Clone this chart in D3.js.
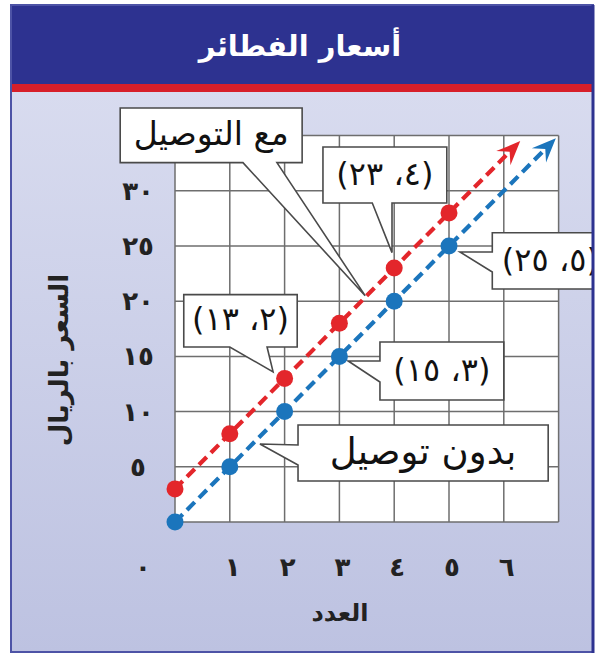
<!DOCTYPE html>
<html><head><meta charset="utf-8">
<script src="https://cdn.jsdelivr.net/npm/d3@7"></script>
<style>body{margin:0;background:#fff} svg{display:block}</style>
</head><body>
<script>
// ---- data ----
const chartTitle = "أسعار الفطائر";
const xTitle = "العدد";
const yTitle = "السعر بالريال";
const counts = [0, 1, 2, 3, 4, 5];
const withDelivery = [3, 8, 13, 18, 23, 28];
const withoutDelivery = [0, 5, 10, 15, 20, 25];
const arrowEndX = [6.3, 6.95];          // red, blue line extents
const seriesNames = ["مع التوصيل", "بدون توصيل"];
const xTickValues = [0, 1, 2, 3, 4, 5, 6];
const xTickLabels = ["٠", "١", "٢", "٣", "٤", "٥", "٦"];
const yTickValues = [5, 10, 15, 20, 25, 30];
const yTickLabels = ["٥", "١٠", "١٥", "٢٠", "٢٥", "٣٠"];
const pointLabelText = ["(٢، ١٣)", "(٤، ٢٣)", "(٣، ١٥)", "(٥، ٢٥)"];

// ---- layout ----
const W = 600, H = 657;
const frame = {x0: 10, y0: 5, x1: 594, y1: 653};
const x = d3.scaleLinear().domain([0, 7]).range([175, 558.6]);
const y = d3.scaleLinear().domain([0, 35]).range([522, 135.6]);
const RED = "#e3262b", BLUE = "#1b75bc";
const AR = "'DejaVu Sans', sans-serif";

// callouts in data units: box [xmin,xmax,ytop,ybottom]
const callouts = [
  {text: seriesNames[0], size: 33, box: [-1.0, 2.32, 37.5, 32.55], side: "bottom", base: [1.24, 1.86], tip: [3.47, 20.5]},
  {text: pointLabelText[1], size: 32, box: [2.70, 4.96, 33.97, 28.89], side: "bottom", base: [3.60, 3.96], tip: [3.96, 24.4]},
  {text: pointLabelText[0], size: 32, box: [0.16, 2.23, 20.6, 15.85], side: "bottom", base: [1.00, 1.68], tip: [1.79, 13.6]},
  {text: pointLabelText[3], size: 32, box: [5.79, 8.3, 26.2, 21.1], side: "left", base: [24.46, 22.64], tip: [5.20, 24.46], tx: 6.85},
  {text: pointLabelText[2], size: 32, box: [3.74, 6.0, 16.3, 11.05], side: "left", base: [14.58, 12.68], tip: [3.16, 14.58]},
  {text: seriesNames[1], size: 37, box: [2.245, 6.81, 8.79, 3.71], side: "left", base: [6.98, 5.16], tip: [1.55, 7.07]}
];

const svg = d3.select("body").append("svg").attr("width", W).attr("height", H);
const defs = svg.append("defs");
const grad = defs.append("linearGradient").attr("id", "bg").attr("x1", 0).attr("y1", 0).attr("x2", 0).attr("y2", 1);
grad.append("stop").attr("offset", "0%").attr("stop-color", "#dcdff1");
grad.append("stop").attr("offset", "100%").attr("stop-color", "#bdc2e1");
defs.append("clipPath").attr("id", "fc").append("rect")
  .attr("x", frame.x0).attr("y", frame.y0).attr("width", frame.x1 - frame.x0).attr("height", frame.y1 - frame.y0);

const g = svg.append("g").attr("clip-path", "url(#fc)");

// background
g.append("rect").attr("x", frame.x0).attr("y", frame.y0).attr("width", frame.x1 - frame.x0).attr("height", frame.y1 - frame.y0).attr("fill", "url(#bg)");
// title band
g.append("rect").attr("x", frame.x0).attr("y", frame.y0).attr("width", frame.x1 - frame.x0).attr("height", 79).attr("fill", "#2d3290");
g.append("rect").attr("x", frame.x0).attr("y", 84).attr("width", frame.x1 - frame.x0).attr("height", 8).attr("fill", "#d71f2a");
g.append("text").attr("x", 300).attr("y", 56).attr("text-anchor", "middle").attr("direction", "rtl")
  .attr("font-family", AR).attr("font-weight", "bold").attr("font-size", 29).attr("fill", "#fff").text(chartTitle);

// grid
g.append("rect").attr("x", x(0)).attr("y", y(35)).attr("width", x(7) - x(0)).attr("height", y(0) - y(35)).attr("fill", "#fff");
const grid = g.append("g").attr("stroke", "#6e6e6e").attr("stroke-width", 1.5);
grid.selectAll("line.v").data(d3.range(0, 8)).join("line")
  .attr("x1", d => x(d)).attr("x2", d => x(d)).attr("y1", y(0)).attr("y2", y(35));
grid.selectAll("line.h").data(d3.range(0, 36, 5)).join("line").attr("class", "h")
  .attr("y1", d => y(d)).attr("y2", d => y(d)).attr("x1", x(0)).attr("x2", x(7));

// tick labels
g.append("g").selectAll("text").data(yTickValues).join("text")
  .attr("x", 138).attr("y", d => y(d) + 9).attr("text-anchor", "middle")
  .attr("font-family", AR).attr("font-weight", "bold").attr("font-size", 26).attr("fill", "#222")
  .text((d, i) => yTickLabels[i]);
g.append("g").selectAll("text").data(xTickValues).join("text")
  .attr("x", d => d === 0 ? x(0) - 32 : x(d) + 3).attr("y", 576).attr("text-anchor", "middle")
  .attr("font-family", AR).attr("font-weight", "bold").attr("font-size", 26).attr("fill", "#222")
  .text((d, i) => xTickLabels[i]);

// axis titles
g.append("text").attr("x", 340).attr("y", 621).attr("text-anchor", "middle").attr("direction", "rtl")
  .attr("font-family", AR).attr("font-weight", "bold").attr("font-size", 24).attr("fill", "#222").text(xTitle);
g.append("text").attr("transform", "translate(68,360) rotate(-90)").attr("text-anchor", "middle").attr("direction", "rtl")
  .attr("font-family", AR).attr("font-weight", "bold").attr("font-size", 26).attr("fill", "#222").text(yTitle);

// callouts
function calloutPath(c) {
  const x0 = x(c.box[0]), x1 = x(c.box[1]), y0 = y(c.box[2]), y1 = y(c.box[3]);
  const tx = x(c.tip[0]), ty = y(c.tip[1]);
  let pts;
  if (c.side === "bottom") {
    const a = x(c.base[0]), b = x(c.base[1]);
    pts = [[x0, y0], [x1, y0], [x1, y1], [b, y1], [tx, ty], [a, y1], [x0, y1]];
  } else {
    const a = y(c.base[0]), b = y(c.base[1]);
    pts = [[x0, y0], [x1, y0], [x1, y1], [x0, y1], [x0, b], [tx, ty], [x0, a]];
  }
  return "M" + pts.map(p => p.join(",")).join("L") + "Z";
}
const co = g.append("g");
co.selectAll("path").data(callouts).join("path")
  .attr("d", calloutPath).attr("fill", "#fff").attr("stroke", "#4a4a4a").attr("stroke-width", 1.6)
  .attr("stroke-linejoin", "miter");
co.selectAll("text").data(callouts).join("text")
  .attr("x", c => c.tx !== undefined ? x(c.tx) : (x(c.box[0]) + x(c.box[1])) / 2)
  .attr("y", c => (y(c.box[2]) + y(c.box[3])) / 2 + c.size * 0.3)
  .attr("text-anchor", "middle").attr("direction", "rtl")
  .attr("font-family", AR).attr("font-size", c => c.size).attr("fill", "#111")
  .text(c => c.text);

// series lines with arrows
const series = [
  {vals: withDelivery, color: RED, endX: arrowEndX[0]},
  {vals: withoutDelivery, color: BLUE, endX: arrowEndX[1]}
];
series.forEach(s => {
  const slope = (s.vals[5] - s.vals[0]) / (counts[5] - counts[0]);
  const endY = s.vals[0] + slope * s.endX;
  const px0 = x(counts[0]), py0 = y(s.vals[0]), px1 = x(s.endX), py1 = y(endY);
  const ang = Math.atan2(py1 - py0, px1 - px0);
  const L = 24, hw = 10, notch = 15;
  const lx = px1 - Math.cos(ang) * notch, ly = py1 - Math.sin(ang) * notch;
  g.append("line").attr("x1", px0).attr("y1", py0).attr("x2", lx).attr("y2", ly)
    .attr("stroke", s.color).attr("stroke-width", 4.2).attr("stroke-dasharray", "11,6");
  const deg = ang * 180 / Math.PI;
  g.append("path").attr("d", `M0,0L${-L},${-hw}L${-notch},0L${-L},${hw}Z`)
    .attr("transform", `translate(${px1},${py1}) rotate(${deg})`).attr("fill", s.color);
  g.append("g").selectAll("circle").data(counts).join("circle")
    .attr("cx", d => x(d)).attr("cy", (d, i) => y(s.vals[i])).attr("r", 8.5).attr("fill", s.color);
});

// frame border
svg.append("rect").attr("x", frame.x0 + 1).attr("y", frame.y0).attr("width", frame.x1 - frame.x0 - 2).attr("height", frame.y1 - frame.y0 - 1)
  .attr("fill", "none").attr("stroke", "#4d53a6").attr("stroke-width", 2);
svg.append("line").attr("x1", frame.x1 - 1).attr("x2", frame.x1 - 1).attr("y1", frame.y0).attr("y2", frame.y1)
  .attr("stroke", "#2d3290").attr("stroke-width", 3);
</script>
</body></html>
